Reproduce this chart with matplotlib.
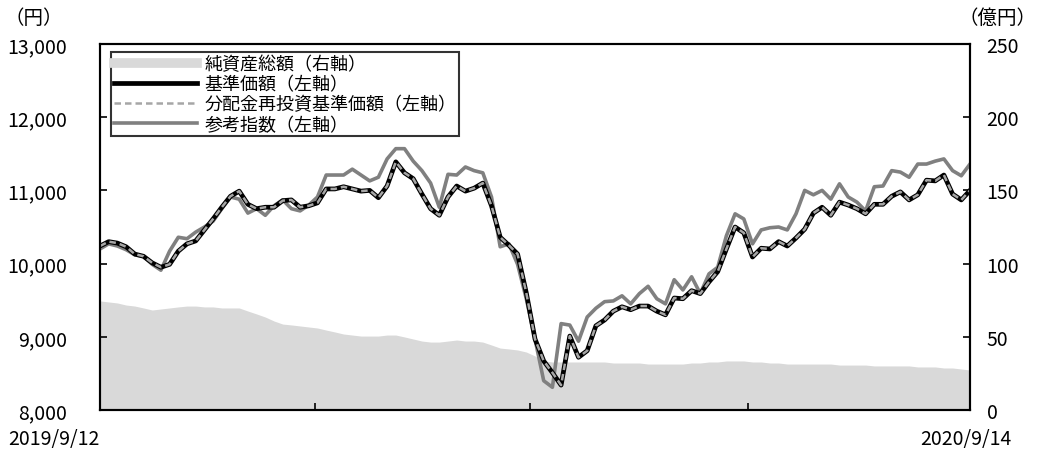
import matplotlib
matplotlib.use("Agg")
import matplotlib.pyplot as plt
from matplotlib.lines import Line2D
import matplotlib.ticker as mticker
import pandas as pd
import numpy as np

plt.rcParams['font.family'] = ['Noto Sans CJK JP', 'DejaVu Sans']

start_date = "2019-09-12"
end_date = "2020-09-14"
tick_dates = ["2019-12-12", "2020-03-12", "2020-06-12"]

# 基準価額（円）
nav = [10240, 10300, 10280, 10230, 10130, 10100, 10010, 9950, 9990, 10170,
       10270, 10310, 10460, 10610, 10770, 10920, 10990, 10810, 10750, 10770,
       10770, 10860, 10870, 10770, 10790, 10830, 11020, 11020, 11050, 11020,
       10990, 11000, 10900, 11060, 11390, 11240, 11160, 10950, 10750, 10660,
       10910, 11060, 10990, 11030, 11100, 10790, 10360, 10250, 10130, 9600,
       8970, 8670, 8510, 8340, 9010, 8720, 8810, 9150, 9230, 9350,
       9410, 9370, 9420, 9420, 9350, 9300, 9530, 9520, 9630, 9590,
       9750, 9890, 10200, 10500, 10420, 10090, 10210, 10200, 10300, 10240,
       10350, 10470, 10690, 10770, 10660, 10840, 10800, 10750, 10680, 10810,
       10810, 10920, 10980, 10870, 10940, 11140, 11130, 11210, 10950, 10870,
       11000]

# 分配金再投資基準価額（円）
nav_reinvested = list(nav)

# 参考指数（円換算）
benchmark = [10200, 10270, 10240, 10190, 10120, 10100, 9990, 9910, 10170, 10360,
             10340, 10430, 10500, 10580, 10750, 10910, 10880, 10690, 10750, 10660,
             10790, 10870, 10750, 10720, 10800, 10910, 11210, 11210, 11210, 11290,
             11210, 11130, 11180, 11430, 11570, 11570, 11400, 11270, 11100, 10770,
             11220, 11210, 11320, 11270, 11240, 10910, 10230, 10270, 9990, 9520,
             8970, 8400, 8310, 9180, 9160, 8940, 9270, 9390, 9480, 9490,
             9560, 9450, 9590, 9690, 9520, 9450, 9780, 9640, 9820, 9590,
             9860, 9950, 10380, 10680, 10610, 10270, 10460, 10490, 10500, 10460,
             10680, 11000, 10940, 11000, 10880, 11090, 10910, 10840, 10720, 11050,
             11060, 11270, 11250, 11180, 11360, 11360, 11400, 11430, 11270, 11200,
             11360]

# 純資産総額（億円）
net_assets = [74.5, 73.8, 73.1, 71.7, 71.0, 69.7, 68.3, 69.0, 69.7, 70.4,
              71.0, 71.0, 70.4, 70.4, 69.7, 69.7, 69.7, 67.6, 65.6, 63.5,
              60.8, 58.7, 58.1, 57.4, 56.7, 56.0, 54.6, 53.3, 51.9, 51.2,
              50.5, 50.5, 50.5, 51.2, 51.2, 49.9, 48.5, 47.1, 46.4, 46.4,
              47.1, 47.8, 47.1, 47.1, 46.4, 44.4, 42.3, 41.7, 41.0, 39.6,
              36.9, 33.5, 32.8, 32.8, 32.8, 32.8, 32.8, 32.8, 32.8, 32.1,
              32.1, 32.1, 32.1, 31.4, 31.4, 31.4, 31.4, 31.4, 32.1, 32.1,
              32.8, 32.8, 33.5, 33.5, 33.5, 32.8, 32.8, 32.1, 32.1, 31.4,
              31.4, 31.4, 31.4, 31.4, 31.4, 30.7, 30.7, 30.7, 30.7, 30.1,
              30.1, 30.1, 30.1, 30.1, 29.4, 29.4, 29.4, 28.7, 28.7, 28.0,
              27.3]

labels = ["純資産総額（右軸）", "基準価額（左軸）", "分配金再投資基準価額（左軸）", "参考指数（左軸）"]
left_ticks = [8000, 9000, 10000, 11000, 12000, 13000]
right_ticks = [0, 50, 100, 150, 200, 250]

dates = pd.date_range(start_date, end_date, periods=len(nav))

fig = plt.figure(figsize=(10.37, 4.52), dpi=100)
ax = fig.add_axes([100/1037, 41/452, 870/1037, 366/452])
ax2 = ax.twinx()
ax.set_zorder(ax2.get_zorder() + 1)
ax.patch.set_visible(False)

ax2.fill_between(dates, 0, net_assets, color="#d9d9d9", linewidth=0)
ax2.set_ylim(0, 250)
ax2.set_yticks(right_ticks)

ax.plot(dates, benchmark, color="#808080", lw=2.6, solid_joinstyle="round")
ax.plot(dates, nav, color="black", lw=3.4, solid_joinstyle="round")
ax.plot(dates, nav_reinvested, color="#a6a6a6", lw=1.8, linestyle=(0, (2.6, 1.6)))
ax.set_ylim(8000, 13000)
ax.set_yticks(left_ticks)
ax.yaxis.set_major_formatter(mticker.FuncFormatter(lambda v, p: f"{int(v):,}"))
ax.set_xlim(dates[0], dates[-1])
ax.set_xticks(pd.to_datetime(tick_dates))
ax.set_xticklabels([])

for a in (ax, ax2):
    for s in a.spines.values():
        s.set_linewidth(1.5)
        s.set_color("black")
ax.tick_params(axis="y", direction="in", length=5, width=1.2, labelsize=14, pad=24)
ax.tick_params(axis="x", direction="in", length=5, width=1.2)
ax2.tick_params(axis="y", direction="in", length=5, width=1.2, labelsize=14, pad=12)

ax.text(0, -0.078, "2019/9/12", transform=ax.transAxes, ha="right", va="center", fontsize=14)
ax.text(0.995, -0.078, "2020/9/14", transform=ax.transAxes, ha="center", va="center", fontsize=14)
fig.text(4/1037, 1 - 18/452, "（円）", ha="left", va="center", fontsize=14)
fig.text(1037/1037, 1 - 18/452, "（億円）", ha="right", va="center", fontsize=14)

handles = [
    Line2D([], [], color="#d9d9d9", lw=7),
    Line2D([], [], color="black", lw=3.4),
    Line2D([], [], color="#a6a6a6", lw=1.8, linestyle=(0, (2.6, 1.6))),
    Line2D([], [], color="#808080", lw=2.6),
]
leg = ax.legend(handles, labels, loc="upper left", bbox_to_anchor=(0.013, 0.977),
                fontsize=13, frameon=True, fancybox=False, edgecolor="black",
                handlelength=4.6, handletextpad=0.4, labelspacing=0.12,
                borderpad=0.15, borderaxespad=0)
leg.get_frame().set_linewidth(1.5)

fig.savefig("out.png", dpi=100)
